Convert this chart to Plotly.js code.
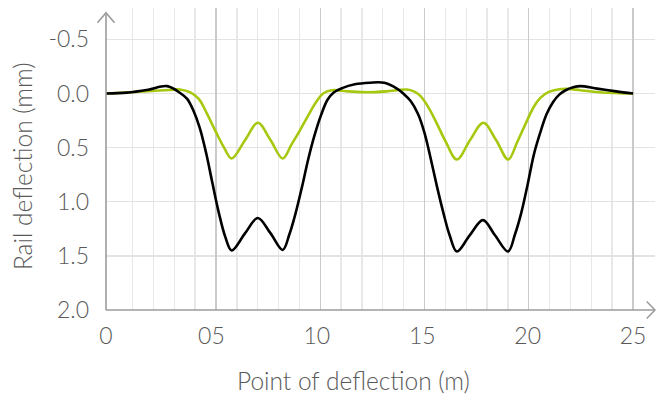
<!DOCTYPE html>
<html><head><meta charset="utf-8">
<script src="https://cdn.plot.ly/plotly-3.0.1.min.js"></script>
<style>html,body{margin:0;padding:0;background:#fff}</style>
</head><body><div id="chart" style="width:656px;height:396px"></div>
<script>
// Point of deflection (m) and rail deflection (mm)
const blackX = [0, 1, 2, 2.9, 3.55, 3.85, 4.15, 4.45, 4.75, 5.05, 5.35, 5.65, 5.96, 6.6, 7.2, 7.8, 8.38, 8.7, 9.0, 9.3, 9.6, 9.9, 10.2, 10.5, 10.8, 11.2, 11.8, 12.5, 13.2, 13.8, 14.1, 14.45, 14.8, 15.1, 15.4, 15.7, 16.0, 16.3, 16.64, 17.25, 17.88, 18.45, 19.07, 19.4, 19.7, 20.0, 20.3, 20.6, 20.9, 21.2, 21.5, 21.8, 22.2, 22.5, 23.3, 24.2, 25];
const blackY = [0, -0.008, -0.035, -0.068, 0.0, 0.05, 0.16, 0.32, 0.55, 0.83, 1.1, 1.32, 1.45, 1.29, 1.15, 1.29, 1.445, 1.3, 1.1, 0.86, 0.6, 0.38, 0.2, 0.06, -0.01, -0.05, -0.085, -0.1, -0.1, -0.046, 0.0, 0.07, 0.19, 0.36, 0.6, 0.86, 1.1, 1.31, 1.46, 1.31, 1.17, 1.31, 1.46, 1.3, 1.1, 0.84, 0.56, 0.36, 0.19, 0.08, 0.01, -0.03, -0.06, -0.068, -0.045, -0.02, 0];

const greenX = [0, 1, 2, 3, 3.5, 4.0, 4.4, 4.8, 5.2, 5.6, 5.96, 6.6, 7.2, 7.8, 8.38, 8.8, 9.2, 9.6, 10.0, 10.3, 10.7, 11.5, 12.4, 13.3, 14.27, 14.6, 14.9, 15.3, 15.7, 16.1, 16.64, 17.27, 17.9, 18.5, 19.08, 19.5, 19.9, 20.3, 20.6, 21.0, 21.5, 21.9, 22.5, 23.4, 24.3, 25];
const greenY = [0, -0.01, -0.022, -0.033, -0.037, -0.01, 0.05, 0.19, 0.35, 0.5, 0.6, 0.43, 0.27, 0.43, 0.6, 0.47, 0.34, 0.2, 0.07, 0.0, -0.03, -0.02, -0.012, -0.02, -0.037, -0.02, 0.02, 0.13, 0.28, 0.44, 0.61, 0.43, 0.27, 0.43, 0.61, 0.45, 0.28, 0.12, 0.04, -0.015, -0.04, -0.043, -0.03, -0.012, -0.004, 0];

const xTickVals = [0, 5, 10, 15, 20, 25];
const xTickText = ["0", "05", "10", "15", "20", "25"];
const yTickVals = [-0.5, 0, 0.5, 1, 1.5, 2];
const yTickText = ["-0.5", "0.0", "0.5", "1.0", "1.5", "2.0"];
const majorGrid = [5, 10, 15, 20, 25];
const minorGrid = [1, 2, 3, 4, 6, 7, 8, 9, 11, 12, 13, 14, 16, 17, 18, 19, 21, 22, 23, 24];

const axisColor = '#9b9b9b';
const fam = '"Lato Light", Lato, "Open Sans", sans-serif';
const tickFont = {family: fam, size: 23, color: '#595959', weight: 300};
const titleFont = {family: fam, size: 24.5, color: '#595959', weight: 300};

const traces = [
  {x: [0, 25], y: [null, null], xaxis: 'x2', yaxis: 'y', mode: 'lines', showlegend: false, hoverinfo: 'skip'},
  {x: greenX, y: greenY, mode: 'lines', line: {color: '#a6c80f', width: 2.6, shape: 'spline', smoothing: 1}, showlegend: false},
  {x: blackX, y: blackY, mode: 'lines', line: {color: '#000000', width: 2.6, shape: 'spline', smoothing: 1}, showlegend: false}
];

const layout = {
  width: 656, height: 396,
  margin: {l: 106, r: 1, t: 8, b: 86},
  paper_bgcolor: '#ffffff', plot_bgcolor: '#ffffff',
  font: tickFont,
  showlegend: false,
  xaxis: {
    range: [0, 26.04], tickmode: 'array', tickvals: xTickVals, ticktext: xTickText,
    showgrid: false, zeroline: false, showline: false, ticks: '', ticklabelstandoff: 10,
    tickfont: tickFont, fixedrange: true
  },
  xaxis2: {
    overlaying: 'x', side: 'bottom', range: [-0.276, 26.055],
    tickmode: 'array', tickvals: majorGrid, showticklabels: false, ticks: '',
    showgrid: true, gridcolor: '#cacaca', gridwidth: 1.4, zeroline: false, showline: false,
    minor: {tickmode: 'array', tickvals: minorGrid, showgrid: true, gridcolor: '#e8e8e8', gridwidth: 1.4, ticks: ''},
    fixedrange: true
  },
  yaxis: {
    range: [2.0, -0.79], tickmode: 'array', tickvals: yTickVals, ticktext: yTickText,
    showgrid: true, gridcolor: '#e3e3e3', gridwidth: 1.4, zeroline: false, showline: false,
    ticks: '', ticklabelstandoff: 16, tickfont: tickFont, fixedrange: true
  },
  annotations: [
    {text: 'Point of deflection (m)', xref: 'paper', yref: 'paper', x: 0.45, y: -0.232,
     xanchor: 'center', yanchor: 'middle', showarrow: false, font: titleFont},
    {text: 'Rail deflection (mm)', xref: 'paper', yref: 'paper', x: -0.152, y: 0.475, textangle: -90,
     xanchor: 'center', yanchor: 'middle', showarrow: false, font: titleFont}
  ],
  shapes: [
    {type: 'line', xref: 'paper', yref: 'paper', x0: 0, x1: 0, y0: 0, y1: 0.984, line: {color: axisColor, width: 1.6}},
    {type: 'line', xref: 'paper', yref: 'paper', x0: 0, x1: 1, y0: 0, y1: 0, line: {color: axisColor, width: 1.6}},
    {type: 'path', xref: 'paper', yref: 'paper', path: 'M -0.0155 0.951 L 0 0.984 L 0.0155 0.951', line: {color: axisColor, width: 1.6}},
    {type: 'path', xref: 'paper', yref: 'paper', path: 'M 0.9849 0.028 L 1 0 L 0.9849 -0.028', line: {color: axisColor, width: 1.6}}
  ]
};

Plotly.newPlot('chart', traces, layout, {displayModeBar: false, staticPlot: true});
</script>
</body></html>
